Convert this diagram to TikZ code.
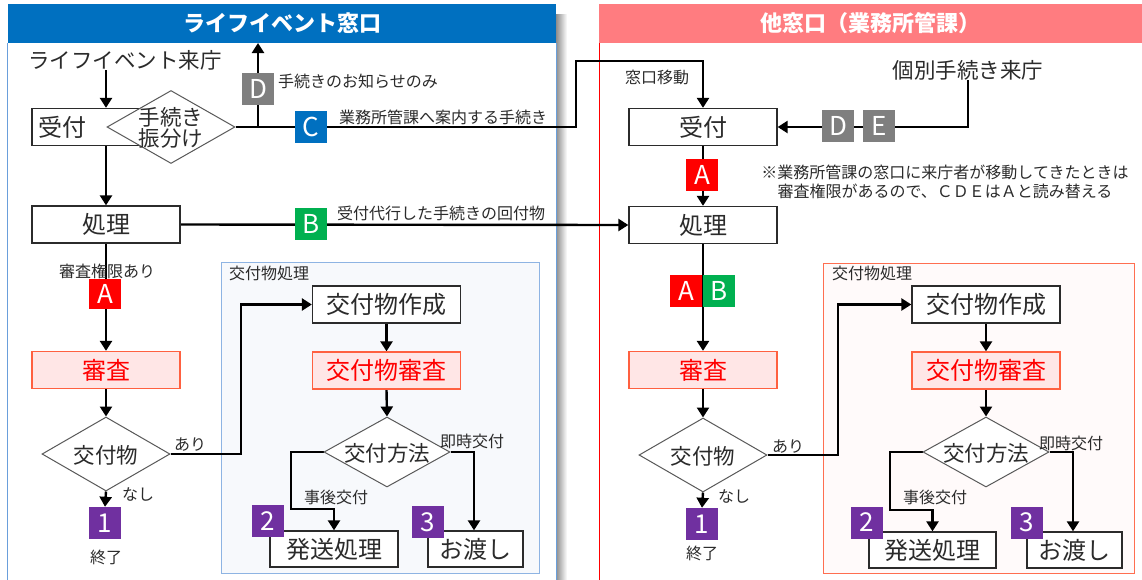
\documentclass[tikz,border=0pt]{standalone}
\usepackage{fontspec}
\setmainfont{Noto Sans CJK JP}
\usetikzlibrary{arrows.meta,shapes.geometric}
\definecolor{hdrblue}{HTML}{0070C0}
\definecolor{hdrpink}{HTML}{FF7C80}
\definecolor{pnlblue}{HTML}{6A9FDB}
\definecolor{grpblue}{HTML}{8EB4E3}
\definecolor{grpbluefill}{HTML}{F7F9FC}
\definecolor{grpred}{HTML}{FF6E50}
\definecolor{grpredfill}{HTML}{FFFAFA}
\definecolor{chkfill}{HTML}{FFE6E6}
\definecolor{chkdraw}{HTML}{FF6040}
\definecolor{txt}{HTML}{2B2B2B}
\definecolor{diagray}{HTML}{595959}
\definecolor{lA}{HTML}{FF0000}
\definecolor{lB}{HTML}{00B050}
\definecolor{lC}{HTML}{0070C0}
\definecolor{lD}{HTML}{7F7F7F}
\definecolor{lN}{HTML}{7030A0}
\newcommand\szL{\fontsize{24}{28}\selectfont}
\newcommand\szX{\fontsize{26}{28}\selectfont}
\newcommand\szM{\fontsize{21.5}{21.5}\selectfont}
\newcommand\szS{\fontsize{16}{19}\selectfont}
\newcommand\szT{\fontsize{22}{22}\selectfont\bfseries}
\pgfdeclarelayer{back}
\pgfdeclarelayer{bg}
\pgfsetlayers{back,bg,main}
\tikzset{
  box/.style={draw=txt, line width=1.3pt, fill=white, minimum width=148pt, minimum height=37pt, inner sep=0pt, font=\szL, text=txt},
  chk/.style={box, fill=chkfill, draw=chkdraw, text=red},
  dia/.style={diamond, draw=diagray, line width=1pt, fill=white, minimum width=128pt, minimum height=74pt, inner sep=0pt},
  diasm/.style={dia, minimum width=126pt, minimum height=70pt},
  lbl/.style={font=\szS, text=txt, inner sep=0pt},
  mid/.style={font=\szM, text=txt, inner sep=0pt},
  ltr/.style={minimum width=32pt, minimum height=32pt, inner sep=0pt, text=white, font=\szX},
  conn/.style={line width=2.4pt, draw=black},
  arr/.style={conn, -{Triangle[width=12pt,length=10pt]}},
}
\begin{document}
\begin{tikzpicture}[x=1pt,y=-1pt]
\useasboundingbox (0,0) rectangle (1142,579);
% ---------- panels ----------
\begin{pgfonlayer}{back}
\fill[white] (0,0) rectangle (1142,579);
\shade[left color=black!45, right color=white] (556,14) rectangle (567,585);
\fill[white] (7.5,4) rectangle (556,585);
\draw[pnlblue, line width=1pt] (7.5,43) -- (7.5,585) (556,43) -- (556,585);
\fill[hdrblue] (7.5,4) rectangle (556,43);
\fill[hdrpink] (599,4) rectangle (1145,43);
\draw[red, line width=1pt] (599,43) -- (599,585);
\draw[grpblue, fill=grpbluefill, line width=1pt] (221,262) rectangle (539,573);
\draw[grpred, fill=grpredfill, line width=1pt] (823,263) rectangle (1134,573);
\end{pgfonlayer}
\node[font=\szT, text=white, inner sep=0pt] (titleL) at (282,23) {ライフイベント窓口};
\node[font=\szT, text=white, inner sep=0pt] (titleR) at (870,23) {他窓口（業務所管課）};
% ---------- left column ----------
\node[mid] (raichoL) at (125,60) {ライフイベント来庁};
\node[box] (uketsukeL) at (106,127) {};
\node[font=\szL, text=txt, inner sep=0pt] (uketsukeLt) at (62,127) {受付};
\node[dia, minimum height=73pt] (furiwake) at (171,127) {};
\node[mid, align=center, font=\fontsize{21.5}{21}\selectfont] (furiwaket) at (171,128) {手続き\\振分け};
\node[ltr, fill=lD] (dL) at (258,89) {D};
\node[lbl, anchor=west] (dLt) at (278,81) {手続きのお知らせのみ};
\node[ltr, fill=lC] (cL) at (311,127) {C};
\node[lbl, anchor=west] (cLt) at (339,117) {業務所管課へ案内する手続き};
\node[box] (shoriL) at (106,224.5) {処理};
\node[ltr, fill=lB] (bL) at (311,224) {B};
\node[lbl, anchor=west] (bLt) at (337,213) {受付代行した手続きの回付物};
\node[lbl] (kengenL) at (107,271) {審査権限あり};
\node[ltr, fill=lA, minimum height=30pt] (aL) at (105,294) {A};
\node[chk] (shinsaL) at (106,370) {審査};
\node[dia] (koufuL) at (106,454) {};
\node[mid] (koufuLt) at (106,455) {交付物};
\node[lbl] (ariL) at (190,445) {あり};
\node[lbl] (nashiL) at (138,494) {なし};
\node[ltr, fill=lN] (n1L) at (105,523) {1};
\node[lbl] (endL) at (106,557) {終了};
% group left
\node[lbl, anchor=west] (grpLt) at (229,273) {交付物処理};
\node[box] (sakuseiL) at (386.5,304.5) {交付物作成};
\node[chk] (kshinsaL) at (386.5,370.5) {交付物審査};
\node[diasm] (houhouL) at (387,452) {};
\node[mid] (houhouLt) at (387,453) {交付方法};
\node[lbl] (sokujiL) at (472,441) {即時交付};
\node[lbl] (jigoL) at (336,497) {事後交付};
\node[box, minimum width=128pt, minimum height=36pt] (hassoL) at (334,549) {発送処理};
\node[box, minimum width=95pt, minimum height=36pt] (watashiL) at (475.5,549) {お渡し};
\node[ltr, fill=lN] (n2L) at (268,521) {2};
\node[ltr, fill=lN] (n3L) at (428,522) {3};
% ---------- right column ----------
\node[lbl] (idoR) at (657,77) {窓口移動};
\node[mid] (kobetsu) at (968,70) {個別手続き来庁};
\node[box] (uketsukeR) at (703,127) {受付};
\node[ltr, fill=lD] (dR) at (838,126) {D};
\node[ltr, fill=lD] (eR) at (879,126) {E};
\node[lbl, align=center] (note) at (945,182) {※業務所管課の窓口に来庁者が移動してきたときは\\審査権限があるので、ＣＤＥはＡと読み替える};
\node[ltr, fill=lA] (aR1) at (702,175) {A};
\node[box] (shoriR) at (703,225) {処理};
\node[ltr, fill=lA] (aR2) at (686,291) {A};
\node[ltr, fill=lB] (bR) at (719,291) {B};
\node[chk] (shinsaR) at (703,370) {審査};
\node[dia] (koufuR) at (703,455) {};
\node[mid] (koufuRt) at (703,456) {交付物};
\node[lbl] (ariR) at (788,447) {あり};
\node[lbl] (nashiR) at (734,496) {なし};
\node[ltr, fill=lN] (n1R) at (702,524) {1};
\node[lbl] (endR) at (702,553) {終了};
% group right
\node[lbl, anchor=west] (grpRt) at (832,273) {交付物処理};
\node[box] (sakuseiR) at (986,304.5) {交付物作成};
\node[chk] (kshinsaR) at (986,370.5) {交付物審査};
\node[diasm] (houhouR) at (986,452) {};
\node[mid] (houhouRt) at (986,453) {交付方法};
\node[lbl] (sokujiR) at (1071,443) {即時交付};
\node[lbl] (jigoR) at (935,497) {事後交付};
\node[box, minimum width=127pt, minimum height=36pt] (hassoR) at (932.5,550) {発送処理};
\node[box, minimum width=95pt, minimum height=36pt] (watashiR) at (1074.5,550) {お渡し};
\node[ltr, fill=lN] (n2R) at (867,522.5) {2};
\node[ltr, fill=lN] (n3R) at (1027,522.5) {3};
% ---------- coordinates ----------
\coordinate (dTop) at (258,43);
\coordinate (dJoin) at (258,127);
\coordinate (cTurn1) at (576,127);
\coordinate (cTurn2) at (576,61);
\coordinate (ariTurnL) at (241,454);
\coordinate (jigoTurnL1) at (291,452);
\coordinate (jigoTurnL2) at (291,509);
\coordinate (sokujiTurnL) at (474,452);
\coordinate (ariTurnR) at (838,455);
\coordinate (jigoTurnR1) at (890,452);
\coordinate (jigoTurnR2) at (890,510);
\coordinate (sokujiTurnR) at (1073,452);
% ---------- connectors ----------
\begin{pgfonlayer}{bg}
\draw[arr] (uketsukeL.north |- raichoL.south) -- (uketsukeL.north);
\draw[arr] (dJoin) -- (dTop);
\draw[arr] (furiwake.east) -- (cTurn1) -- (cTurn2) -- (cTurn2 -| uketsukeR.north) -- (uketsukeR.north);
\draw[arr] (uketsukeL.south) -- (shoriL.north);
\draw[arr] (shoriL.east) -- (shoriR.west);
\draw[arr] (shoriL.south) -- (shinsaL.north);
\draw[arr] (shinsaL.south) -- (koufuL.north);
\draw[arr] (koufuL.south) -- (n1L.north);
\draw[arr] (koufuL.east) -- (ariTurnL) -- (ariTurnL |- sakuseiL.west) -- (sakuseiL.west);
\draw[arr] (sakuseiL.south) -- (kshinsaL.north);
\draw[arr] (kshinsaL.south) -- (houhouL.north);
\draw[arr] (houhouL.west) -- (jigoTurnL1) -- (jigoTurnL2) -- (jigoTurnL2 -| hassoL.north) -- (hassoL.north);
\draw[arr] (houhouL.east) -- (sokujiTurnL) -- (sokujiTurnL |- watashiL.north);
% right
\draw[arr] (kobetsu.south) -- (kobetsu.south |- uketsukeR.east) -- (uketsukeR.east);
\draw[arr] (uketsukeR.south) -- (shoriR.north);
\draw[arr] (shoriR.south) -- (shinsaR.north);
\draw[arr] (shinsaR.south) -- (koufuR.north);
\draw[arr] (koufuR.south) -- (n1R.north);
\draw[arr] (koufuR.east) -- (ariTurnR) -- (ariTurnR |- sakuseiR.west) -- (sakuseiR.west);
\draw[arr] (sakuseiR.south) -- (kshinsaR.north);
\draw[arr] (kshinsaR.south) -- (houhouR.north);
\draw[arr] (houhouR.west) -- (jigoTurnR1) -- (jigoTurnR2) -- (jigoTurnR2 -| hassoR.north) -- (hassoR.north);
\draw[arr] (houhouR.east) -- (sokujiTurnR) -- (sokujiTurnR |- watashiR.north);
\end{pgfonlayer}
\end{tikzpicture}
\end{document}
